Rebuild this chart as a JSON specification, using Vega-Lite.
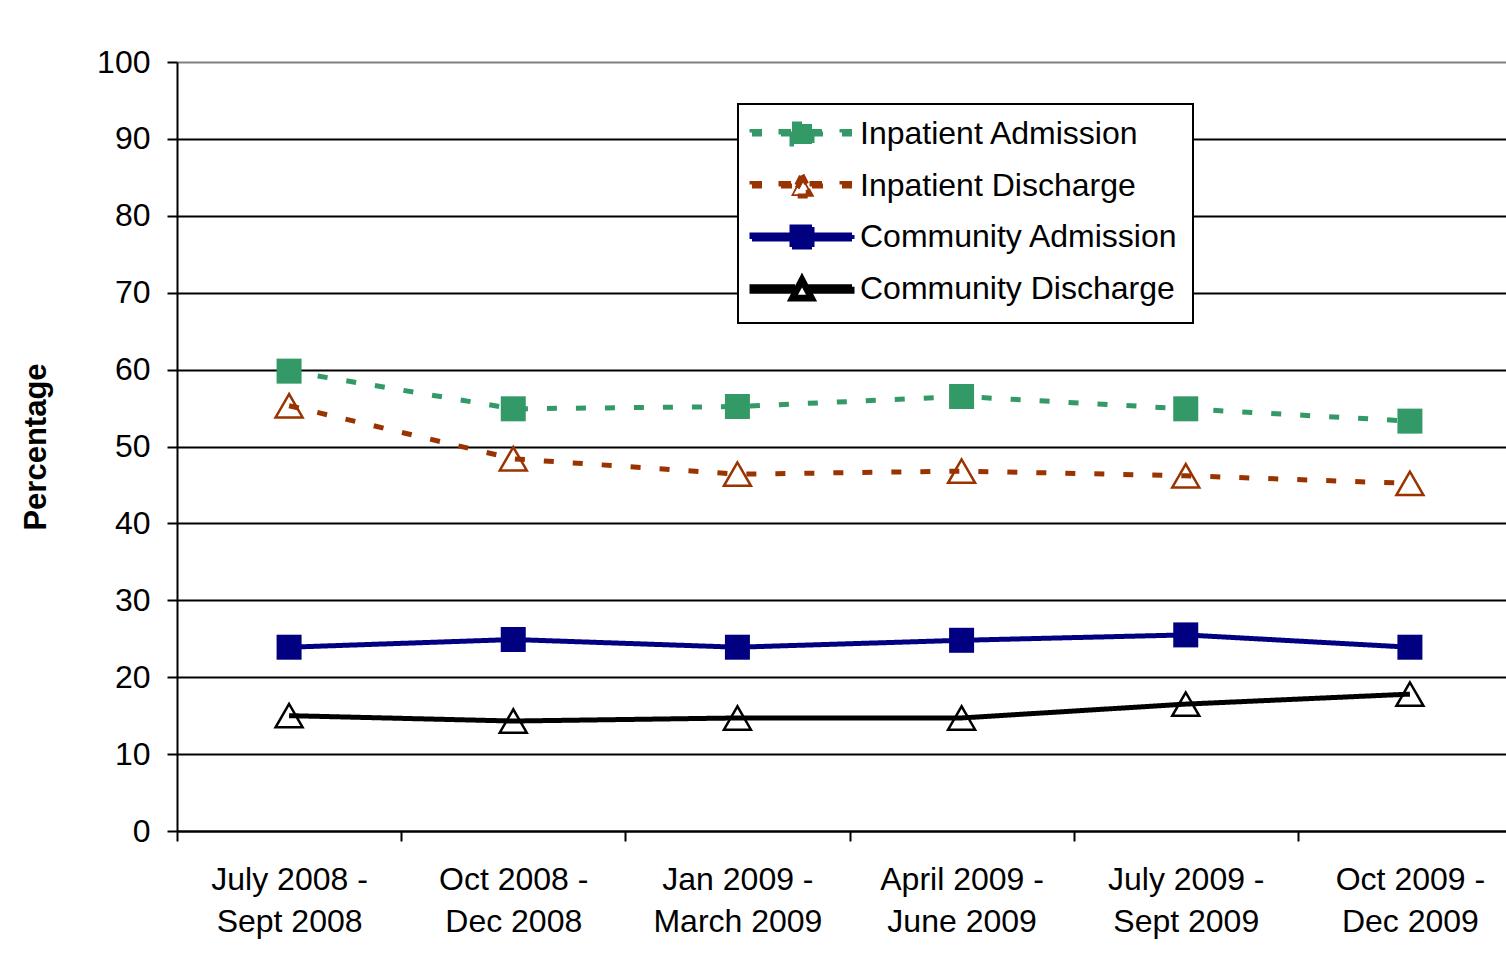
{
  "$schema": "https://vega.github.io/schema/vega-lite/v6.json",
  "autosize": {"type": "none"},
  "padding": {"left": 177, "top": 62, "right": 0, "bottom": 137},
  "width": 1329,
  "height": 769,
  "background": "white",
  "config": {
    "font": "Liberation Sans",
    "view": {"stroke": null},
    "axis": {"labelColor": "black", "titleColor": "black"}
  },
  "data": {
    "values": [
      {"quarter": "July 2008 - Sept 2008", "series": "Inpatient Admission", "value": 59.8},
      {"quarter": "Oct 2008 - Dec 2008", "series": "Inpatient Admission", "value": 54.9},
      {"quarter": "Jan 2009 - March 2009", "series": "Inpatient Admission", "value": 55.2},
      {"quarter": "April 2009 - June 2009", "series": "Inpatient Admission", "value": 56.5},
      {"quarter": "July 2009 - Sept 2009", "series": "Inpatient Admission", "value": 54.9},
      {"quarter": "Oct 2009 - Dec 2009", "series": "Inpatient Admission", "value": 53.3},
      {"quarter": "July 2008 - Sept 2008", "series": "Inpatient Discharge", "value": 55.3},
      {"quarter": "Oct 2008 - Dec 2008", "series": "Inpatient Discharge", "value": 48.4},
      {"quarter": "Jan 2009 - March 2009", "series": "Inpatient Discharge", "value": 46.4},
      {"quarter": "April 2009 - June 2009", "series": "Inpatient Discharge", "value": 46.8},
      {"quarter": "July 2009 - Sept 2009", "series": "Inpatient Discharge", "value": 46.2},
      {"quarter": "Oct 2009 - Dec 2009", "series": "Inpatient Discharge", "value": 45.2},
      {"quarter": "July 2008 - Sept 2008", "series": "Community Admission", "value": 23.9},
      {"quarter": "Oct 2008 - Dec 2008", "series": "Community Admission", "value": 24.9},
      {"quarter": "Jan 2009 - March 2009", "series": "Community Admission", "value": 23.9},
      {"quarter": "April 2009 - June 2009", "series": "Community Admission", "value": 24.8},
      {"quarter": "July 2009 - Sept 2009", "series": "Community Admission", "value": 25.5},
      {"quarter": "Oct 2009 - Dec 2009", "series": "Community Admission", "value": 23.9},
      {"quarter": "July 2008 - Sept 2008", "series": "Community Discharge", "value": 15.0},
      {"quarter": "Oct 2008 - Dec 2008", "series": "Community Discharge", "value": 14.3},
      {"quarter": "Jan 2009 - March 2009", "series": "Community Discharge", "value": 14.7},
      {"quarter": "April 2009 - June 2009", "series": "Community Discharge", "value": 14.7},
      {"quarter": "July 2009 - Sept 2009", "series": "Community Discharge", "value": 16.5},
      {"quarter": "Oct 2009 - Dec 2009", "series": "Community Discharge", "value": 17.8}
    ]
  },
  "encoding": {
    "x": {
      "field": "quarter",
      "type": "nominal",
      "sort": null,
      "bandPosition": 0.5,
      "scale": {"type": "band", "range": [0, 1345], "paddingInner": 0, "paddingOuter": 0},
      "axis": {
        "title": null,
        "labelAngle": 0,
        "labelFontSize": 32,
        "labelLineHeight": 42,
        "labelPadding": 23,
        "labelExpr": "datum.label ? [split(datum.label, ' - ')[0] + ' -', split(datum.label, ' - ')[1]] : ''",
        "tickBand": "extent",
        "tickSize": 10,
        "tickWidth": 2,
        "tickColor": "black",
        "domainColor": "black",
        "domainWidth": 2,
        "grid": false
      }
    },
    "y": {
      "field": "value",
      "type": "quantitative",
      "scale": {"domain": [0, 100], "nice": false},
      "axis": {
        "title": "Percentage",
        "titleFontSize": 31,
        "titleFontWeight": "bold",
        "titlePadding": 44,
        "values": [0, 10, 20, 30, 40, 50, 60, 70, 80, 90, 100],
        "labelFontSize": 32,
        "labelPadding": 17,
        "tickSize": 10,
        "tickWidth": 2,
        "tickColor": "black",
        "domainColor": "black",
        "domainWidth": 2,
        "grid": true,
        "gridWidth": 2,
        "gridColor": {"condition": {"test": "datum.value === 100", "value": "#808080"}, "value": "black"}
      }
    },
    "color": {
      "field": "series",
      "type": "nominal",
      "scale": {
        "domain": ["Inpatient Admission", "Inpatient Discharge", "Community Admission", "Community Discharge"],
        "range": ["#339966", "#993300", "#000080", "#000000"]
      },
      "legend": {
        "title": null,
        "orient": "none",
        "legendX": 561,
        "legendY": 42,
        "padding": 14,
        "strokeColor": "black",
        "fillColor": "white",
        "labelFontSize": 32,
        "labelColor": "black",
        "labelLimit": 600,
        "labelOffset": 42,
        "symbolOffset": 34,
        "symbolSize": 400,
        "symbolStrokeWidth": 0,
        "rowPadding": 11,
        "encode": {
          "legend": {
            "update": {
              "strokeWidth": {"value": 2}
            }
          },
          "symbols": {
            "update": {
              "shape": {"scale": "shape", "field": "value"},
              "fill": {"scale": "color", "field": "value"},
              "fillOpacity": {"value": 1},
              "stroke": {"value": "transparent"},
              "strokeWidth": {"value": 0},
              "strokeDash": {"value": [1, 0]},
              "opacity": {"value": 1},
              "size": {"value": 400}
            }
          }
        }
      }
    }
  },
  "layer": [
    {
      "mark": {"type": "line"},
      "encoding": {
        "strokeDash": {
          "field": "series",
          "type": "nominal",
          "legend": null,
          "scale": {
            "domain": ["Inpatient Admission", "Inpatient Discharge", "Community Admission", "Community Discharge"],
            "range": [[10, 19], [10, 19], [1, 0], [1, 0]]
          }
        },
        "strokeWidth": {
          "field": "series",
          "type": "nominal",
          "legend": null,
          "scale": {
            "domain": ["Inpatient Admission", "Inpatient Discharge", "Community Admission", "Community Discharge"],
            "range": [5, 5, 4, 5]
          }
        }
      }
    },
    {
      "transform": [{"filter": "datum.series === 'Inpatient Admission' || datum.series === 'Community Admission'"}],
      "mark": {"type": "point", "shape": "square", "filled": true, "size": 625, "opacity": 1}
    },
    {
      "transform": [{"filter": "datum.series === 'Inpatient Discharge' || datum.series === 'Community Discharge'"}],
      "mark": {"type": "point", "shape": "triangle-up", "filled": false, "size": 729, "strokeWidth": 2.5, "opacity": 1}
    },
    {
      "transform": [{"filter": "datum.value < 0"}],
      "mark": {"type": "point"},
      "encoding": {
        "shape": {
          "field": "series",
          "type": "nominal",
          "legend": null,
          "scale": {
            "domain": ["Inpatient Admission", "Inpatient Discharge", "Community Admission", "Community Discharge"],
            "range": [
              "M-5,-0.25H-4V0.25H-5ZM-2.1,-0.25H-1V0.25H-2.1ZM1,-0.25H2.1V0.25H1ZM4,-0.25H5V0.25H4ZM-1,-1H1V1H-1Z",
              "M-5,-0.25H-4V0.25H-5ZM-2.1,-0.25H-1V0.25H-2.1ZM1,-0.25H2.1V0.25H1ZM4,-0.25H5V0.25H4ZM0,-1.1L1.1,1L-1.1,1ZM0,-0.68L-0.82,0.82L0.82,0.82Z",
              "M-5,-0.2H5V0.2H-5ZM-1,-1H1V1H-1Z",
              "M-5,-0.22H-0.7V0.22H-5ZM0.7,-0.22H5V0.22H0.7ZM0,-1.1L1.1,1L-1.1,1ZM0,-0.68L-0.82,0.82L0.82,0.82Z"
            ]
          }
        }
      }
    }
  ]
}
